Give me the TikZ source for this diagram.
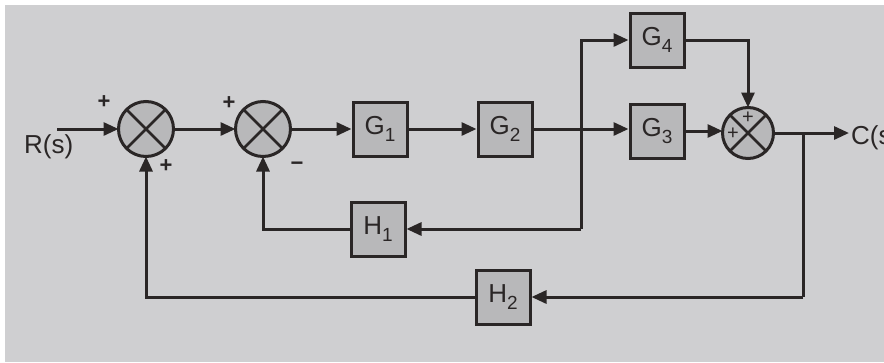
\documentclass[tikz,border=0pt]{standalone}
\usepackage{fontspec}
\setmainfont{Liberation Sans}
\usetikzlibrary{arrows.meta}
\definecolor{bg}{HTML}{CFCFD1}
\definecolor{ink}{HTML}{2A2626}
\definecolor{boxfill}{HTML}{B8B8BA}
\newcommand\mysub[1]{\raisebox{-7pt}{\fontsize{19}{19}\selectfont #1}}
\begin{document}
\begin{tikzpicture}[x=1pt,y=-1pt,
  sig/.style={draw=ink,line width=3pt,-{Triangle[length=15pt,width=13pt]}},
  wire/.style={draw=ink,line width=3pt},
  block/.style={draw=ink,line width=3pt,fill=boxfill,minimum size=54pt,inner sep=0pt,text=ink,font=\fontsize{26}{26}\selectfont},
  sumnode/.style={circle,draw=ink,line width=3pt,fill=boxfill,minimum size=55pt,inner sep=0pt,outer sep=0pt},
  sgn/.style={font=\bfseries\fontsize{22}{22}\selectfont,text=ink,inner sep=0pt},
  sgnsmall/.style={font=\fontsize{20}{20}\selectfont,text=ink,inner sep=0pt},
  lbl/.style={font=\fontsize{26}{26}\selectfont,text=ink,inner sep=0pt}]
\useasboundingbox (0,0) rectangle (884,362);
\fill[bg] (0,0) rectangle (884,362);
\fill[white] (0,0) rectangle (884,5);
\fill[white] (0,0) rectangle (5,362);
\clip (0,0) rectangle (884,362);

% nodes
\node[sumnode] (s1) at (146,129) {};
\node[sumnode] (s2) at (263,129) {};
\node[block] (g1) at (380,129) {G\mysub{1}};
\node[block] (g2) at (505,129) {G\mysub{2}};
\node[block] (g3) at (657,131) {G\mysub{3}};
\node[block] (g4) at (657,40) {G\mysub{4}};
\node[sumnode,minimum size=51pt] (s3) at (748,133) {};
\node[block] (h1) at (378,229) {H\mysub{1}};
\node[block] (h2) at (503,297) {H\mysub{2}};

\foreach \s in {s1,s2,s3}{
  \draw[wire,line width=2.6pt] (\s.north west) -- (\s.south east) (\s.north east) -- (\s.south west);
}

% coordinates
\coordinate (rin) at (57,129);
\coordinate (b1) at (581,129);
\coordinate (b1d) at (581,229);
\coordinate (b2) at (803,133);
\coordinate (b2d) at (803,297);
\coordinate (cout) at (849,133);

% connectors
\draw[sig] (rin) -- (s1);
\draw[sig] (s1) -- (s2);
\draw[sig] (s2) -- (g1);
\draw[sig] (g1) -- (g2);
\draw[sig] (g2) -- (g2 -| g3.west);
\draw[sig] (b1) |- (g4);
\draw[wire] (b1) -- (b1d);
\draw[sig] (b1d) -- (h1);
\draw[sig] (h1) -| (s2);
\draw[sig] (g4) -| (s3);
\draw[sig] (g3) -- (g3 -| s3.west);
\draw[sig] (s3) -- (cout);
\draw[wire] (b2) -- (b2d);
\draw[sig] (b2d) -- (h2);
\draw[sig] (h2) -| (s1);

% labels
\node[lbl,anchor=west] (rs) at (24,147) {R(s)};
\node[lbl,anchor=west] (cs) at (851,138) {C(s)};
\node[sgn] (p1) at (104,102) {+};
\node[sgn] (p2) at (166,166) {+};
\node[sgn] (p3) at (229,103) {+};
\node[sgn] (m1) at (297,166) {−};
\node[sgnsmall] (p4) at (748,118) {+};
\node[sgnsmall] (p5) at (733,134) {+};
\end{tikzpicture}
\end{document}
